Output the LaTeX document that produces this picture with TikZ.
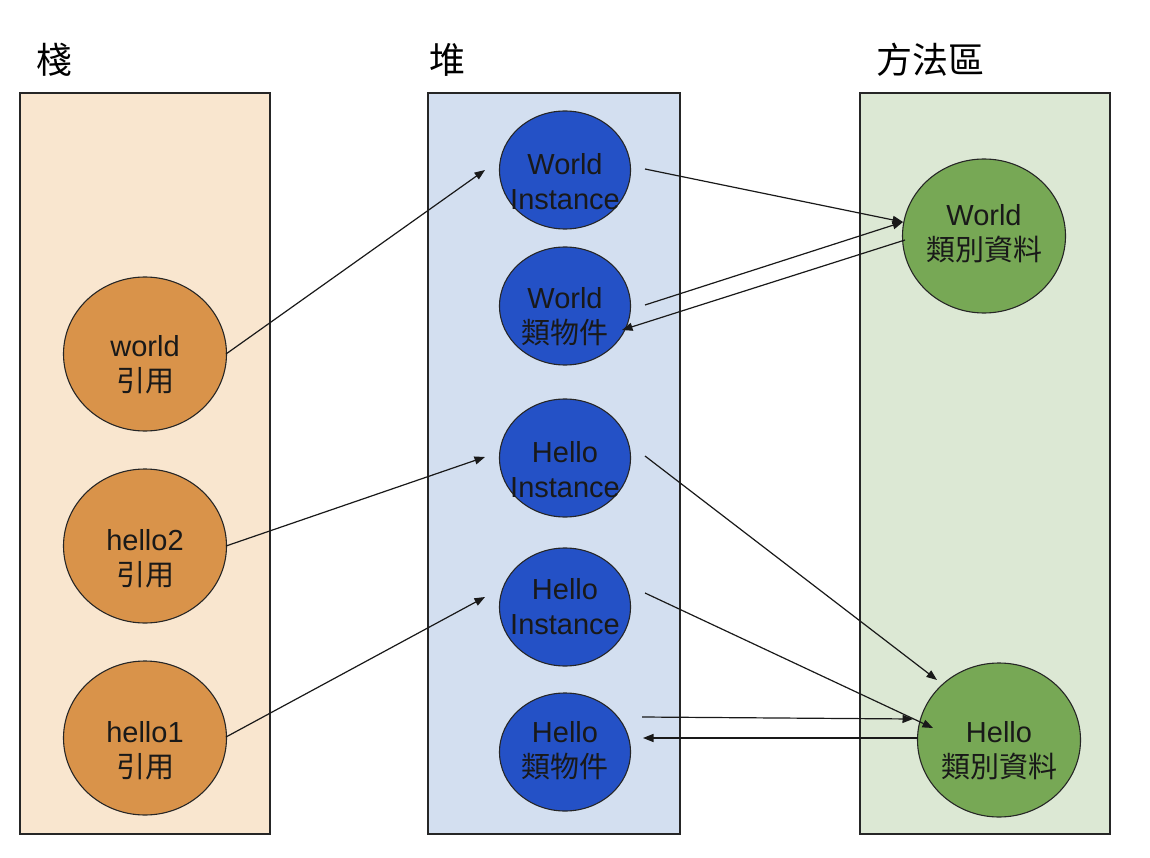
\documentclass[tikz,border=0pt]{standalone}
\usepackage{fontspec}
\setmainfont{Liberation Sans}
\newfontfamily\cjk{Noto Sans CJK TC}
\usetikzlibrary{arrows.meta,shapes.geometric}
\definecolor{stackbg}{HTML}{F9E6CF}
\definecolor{heapbg}{HTML}{D3DFF0}
\definecolor{methbg}{HTML}{DCE8D4}
\definecolor{refcol}{HTML}{D9934A}
\definecolor{objcol}{HTML}{2451C6}
\definecolor{clscol}{HTML}{77A855}
\tikzset{
  panel/.style={draw=black!85, line width=1.4pt},
  title/.style={anchor=west, inner sep=0pt, font=\fontsize{36}{40}\selectfont\cjk},
  refc/.style={ellipse, draw=black!85, line width=1.1pt, fill=refcol, minimum width=163pt, minimum height=154pt, inner sep=0pt},
  objc/.style={ellipse, draw=black!85, line width=1.1pt, fill=objcol, minimum width=131pt, minimum height=118pt, inner sep=0pt},
  clsc/.style={ellipse, draw=black!85, line width=1.1pt, fill=clscol, minimum width=163pt, minimum height=154pt, inner sep=0pt},
  txt/.style={align=center, inner sep=0pt, text=black!90, font=\fontsize{29}{35}\selectfont},
  conn/.style={draw=black!90, line width=1.2pt, -{Triangle[length=10.5pt,width=8pt]}}
}
\begin{document}
\begin{tikzpicture}[x=1pt,y=-1pt]
\useasboundingbox (0,0) rectangle (1150,858);
\fill[white] (0,0) rectangle (1150,858);
% panels
\draw[panel, fill=stackbg] (20,93) rectangle (270,834);
\draw[panel, fill=heapbg] (428,93) rectangle (680,834);
\draw[panel, fill=methbg] (860,93) rectangle (1110,834);
% titles
\node[title] (tstack) at (36,60) {棧};
\node[title] (theap) at (429,60) {堆};
\node[title] (tmeth) at (876,60) {方法區};
% stack refs
\node[refc] (wr) at (145,354) {};
\node[refc] (h2r) at (145,546) {};
\node[refc] (h1r) at (145,738) {};
\node[txt] (wrt) at (145,365) {world\\{\cjk 引用}};
\node[txt] (h2rt) at (145,559) {hello2\\{\cjk 引用}};
\node[txt] (h1rt) at (145,751) {hello1\\{\cjk 引用}};
% heap objects
\node[objc] (wi) at (565,170) {};
\node[objc] (wo) at (565,306) {};
\node[objc] (hi1) at (565,458) {};
\node[objc] (hi2) at (565,607) {};
\node[objc] (ho) at (565,752) {};
\node[txt] (wit) at (565,182) {World\\Instance};
\node[txt] (wot) at (565,317) {World\\{\cjk 類物件}};
\node[txt] (hi1t) at (565,470) {Hello\\Instance};
\node[txt] (hi2t) at (565,607) {Hello\\Instance};
\node[txt] (hot) at (565,751) {Hello\\{\cjk 類物件}};
% method area
\node[clsc] (wc) at (984,236) {};
\node[clsc] (hc) at (999,740) {};
\node[txt] (wct) at (984,234) {World\\{\cjk 類別資料}};
\node[txt] (hct) at (999,751) {Hello\\{\cjk 類別資料}};
% connectors
\draw[conn] ([shift={(81,0)}]wr.center) -- ([shift={(-80,0)}]wi.center);
\draw[conn] ([shift={(81,0)}]h2r.center) -- ([shift={(-80,-1)}]hi1.center);
\draw[conn] ([shift={(81,-1)}]h1r.center) -- ([shift={(-80,-10)}]hi2.center);
\draw[conn] ([shift={(80,-1)}]wi.center) -- ([shift={(-81,-14)}]wc.center);
\draw[conn] ([shift={(80,-1)}]wo.center) -- ([shift={(-81,-14)}]wc.center);
\draw[conn] ([shift={(-79,4)}]wc.center) -- ([shift={(57,24)}]wo.center);
\draw[conn] ([shift={(80,-2)}]hi1.center) -- ([shift={(-62,-60)}]hc.center);
\draw[conn] ([shift={(80,-14)}]hi2.center) -- ([shift={(-66,-12)}]hc.center);
\draw[conn] ([shift={(77,-35)}]ho.center) -- ([shift={(-86,-21)}]hc.center);
\draw[conn] ([shift={(-81,-2)}]hc.center) -- ([shift={(78,-14)}]ho.center);
\end{tikzpicture}
\end{document}
